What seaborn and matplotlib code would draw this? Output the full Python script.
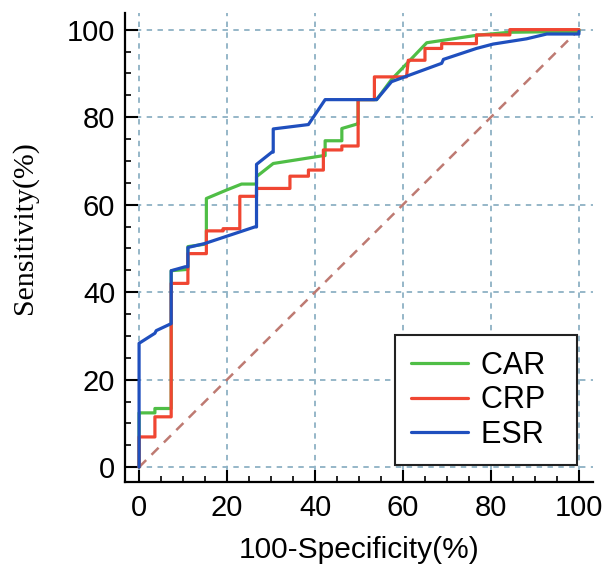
import numpy as np
import pandas as pd
import matplotlib
matplotlib.use("Agg")
import matplotlib.pyplot as plt
import seaborn as sns
from matplotlib.ticker import MultipleLocator

# ---- data ----
car_fpr = [0, 0, 3.6, 3.6, 7.3, 7.3, 11.1, 11.1, 15.3, 15.3, 19.8, 23.3, 26.7, 26.7, 30.5,
           41.9, 42.3, 42.3, 46.1, 46.1, 49.5, 49.8, 49.8, 54.0, 57.4, 65.4, 76.7, 84.3, 100, 100]
car_tpr = [0, 12.4, 12.4, 13.4, 13.4, 44.9, 45.2, 50.4, 51.0, 61.4, 63.3, 64.7, 64.7, 66.4, 69.4,
           71.2, 71.2, 74.6, 74.6, 77.4, 78.4, 78.4, 84.0, 84.0, 88.6, 97.0, 98.7, 99.4, 99.6, 100]

crp_fpr = [0, 0, 3.6, 3.6, 7.3, 7.3, 11.1, 11.1, 15.3, 15.3, 19.1, 19.1, 22.9, 22.9, 26.7, 26.7,
           34.3, 34.3, 38.5, 38.5, 41.9, 41.9, 46.1, 46.1, 49.8, 49.8, 53.5, 53.5, 60.8, 61.2,
           65.0, 65.0, 68.8, 68.8, 76.7, 76.7, 84.3, 84.3, 100]
crp_tpr = [0, 6.9, 6.9, 11.5, 11.5, 42.0, 42.0, 48.8, 48.8, 54.0, 54.0, 54.5, 54.5, 61.9, 61.9, 63.7,
           63.7, 66.5, 66.5, 67.9, 67.9, 72.5, 72.5, 73.4, 73.4, 84.0, 84.0, 89.2, 89.2, 93.0,
           93.0, 95.7, 95.7, 96.8, 96.8, 98.8, 98.8, 100, 100]

esr_fpr = [0, 0, 3.6, 3.9, 7.3, 7.3, 10.5, 11.1, 11.1, 14.9, 26.3, 26.7, 26.7, 30.2, 30.5, 30.5,
           38.5, 42.3, 54.0, 57.4, 68.8, 69.2, 76.7, 80.5, 88.1, 92.7, 100, 100]
esr_tpr = [0, 28.3, 30.6, 31.2, 32.8, 44.9, 45.8, 45.8, 50.2, 51.1, 54.9, 54.9, 69.2, 72.0, 72.0, 77.3,
           78.3, 84.0, 84.0, 88.1, 92.3, 93.2, 95.7, 96.7, 97.9, 99.0, 99.0, 99.6]

ref_line = [0, 100]
series_names = ["CAR", "CRP", "ESR"]
colors = {"CAR": "#4FBE46", "CRP": "#F04632", "ESR": "#1F4FBE"}
x_ticks = [0, 20, 40, 60, 80, 100]
y_ticks = [0, 20, 40, 60, 80, 100]

frames = []
for name, fx, ty in [("CAR", car_fpr, car_tpr), ("CRP", crp_fpr, crp_tpr), ("ESR", esr_fpr, esr_tpr)]:
    d = pd.DataFrame({"fpr": fx, "tpr": ty})
    d["test"] = name
    frames.append(d)
df = pd.concat(frames, ignore_index=True)

sns.set_style("ticks")
plt.rcParams["font.family"] = ["Liberation Sans", "DejaVu Sans"]
plt.rcParams["text.color"] = "black"
plt.rcParams["xtick.color"] = "black"
plt.rcParams["ytick.color"] = "black"
plt.rcParams["axes.labelcolor"] = "black"

fig = plt.figure(figsize=(6.03, 5.68), dpi=100)
ax = fig.add_axes([125 / 603, 1 - 482 / 568, (593 - 125) / 603, (482 - 13) / 568])

# grid
grid_col = "#8DB1C4"
for v in x_ticks:
    ax.axvline(v, color=grid_col, lw=1.3, ls=(0, (3, 3)), zorder=0)
for v in y_ticks:
    ax.axhline(v, color=grid_col, lw=1.3, ls=(0, (3, 3)), zorder=0)

# reference diagonal
sns.lineplot(x=ref_line, y=ref_line, ax=ax, color="#BE7A72", lw=1.8,
             linestyle=(0, (4, 3)), zorder=1)

for i, name in enumerate(series_names):
    sub = df[df["test"] == name]
    sns.lineplot(data=sub, x="fpr", y="tpr", sort=False, estimator=None, ax=ax,
                 color=colors[name], lw=2.3, label=name, zorder=2 + i)

ax.set_xlim(-3.2, 103.2)
ax.set_ylim(-3.4, 103.8)
ax.set_xticks(x_ticks)
ax.set_yticks(y_ticks)
ax.xaxis.set_minor_locator(MultipleLocator(5))
ax.yaxis.set_minor_locator(MultipleLocator(5))
ax.tick_params(which="major", direction="in", length=9, width=1.5, color="black",
               labelsize=21, pad=9, labelcolor="black")
ax.tick_params(which="minor", direction="in", length=4, width=1.2, color="black")
ax.tick_params(axis="y", which="major", pad=7)

for s in ["top", "right"]:
    ax.spines[s].set_visible(False)
for s in ["left", "bottom"]:
    ax.spines[s].set_linewidth(1.6)
    ax.spines[s].set_color("black")

ax.set_xlabel("100-Specificity(%)", fontsize=21.5, family=["Liberation Sans"], color="black")
ax.set_ylabel("Sensitivity(%)", fontsize=21.5, family=["Liberation Serif"], color="black")
ax.xaxis.set_label_coords(0.5, -0.115)
ax.yaxis.set_label_coords(-0.185, 0.543)

handles, labels = ax.get_legend_handles_labels()
leg = ax.legend(handles, [l + "  " for l in labels], loc="lower right",
                bbox_to_anchor=(0.966, 0.036), borderaxespad=0,
                fontsize=22, frameon=True, fancybox=False, handlelength=1.87,
                handletextpad=0.42, labelspacing=0.15, borderpad=0.5)
leg.get_frame().set_edgecolor("#222222")
leg.get_frame().set_linewidth(1.5)
leg.get_frame().set_facecolor("white")
leg.get_frame().set_alpha(1)

fig.savefig("out.png", dpi=100, facecolor="white")
